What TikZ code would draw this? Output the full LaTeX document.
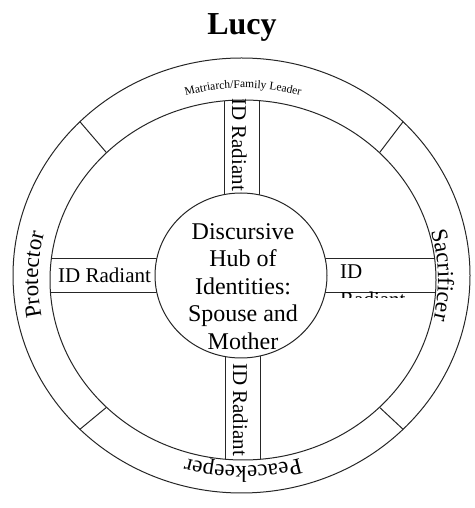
\documentclass[tikz,border=0pt]{standalone}
\usepackage{fontspec}
\setmainfont{Liberation Serif}
\usetikzlibrary{shapes.geometric,decorations.text}

\tikzset{
  ringline/.style={draw=black!85, line width=1pt},
  barbox/.style={draw=black!85, line width=1pt},
  radtext/.style={font=\fontsize{21}{24}\selectfont, inner sep=0pt},
  hubshape/.style={ellipse, draw=black!85, line width=1pt, fill=white,
    minimum width=172pt, minimum height=165pt, inner sep=0pt, outer sep=0pt},
  hubtext/.style={font=\fontsize{24}{27.5}\selectfont, align=center, inner sep=0pt},
  titletext/.style={font=\fontsize{32}{36}\selectfont\bfseries, inner sep=0pt},
}

\begin{document}
\begin{tikzpicture}[x=1pt, y=1pt]
\useasboundingbox (0,0) rectangle (474,508);

% centres of the outer rim, the inner rim and the hub
\coordinate (O) at (241.5,232.5);
\coordinate (I) at (243,228);
\coordinate (H) at (241,232.5);

% rims of the wheel
\draw[ringline] (O) ellipse [x radius=228.5, y radius=217.5];
\draw[ringline] (I) ellipse [x radius=193, y radius=180];

% dividers between the rim segments
\foreach \a in {45,135,225,315}
  \draw[ringline] ([shift={(\a:228.5 and 217.5)}]O) -- ([shift={(\a:193 and 180)}]I);

% spokes, cut off by the inner rim
\begin{scope}
  \clip (I) ellipse [x radius=193, y radius=180];
  \draw[barbox] (224,232) rectangle (259,430);
  \draw[barbox] (225,232) rectangle (260,30);
  \draw[barbox] (20,249) rectangle (241,215);
  \draw[barbox] (241,249) rectangle (460,215);
\end{scope}

% spoke labels
\node[radtext, rotate=-90, anchor=base west] (radtop) at (232,410) {ID Radiant};
\node[radtext, rotate=-90, anchor=base west] (radbottom) at (233,145) {ID Radiant};
\node[radtext, anchor=base west] (radleft) at (58,225) {ID Radiant};
\begin{scope}
  \clip (327,249) rectangle (436,210);
  \node[radtext, align=left, anchor=north west, font=\fontsize{21}{28}\selectfont] (radright) at (340,243) {ID\\Radiant};
\end{scope}

% hub
\node[hubshape] (hub) at (H) {};
\node[hubtext] (hublabel) at (243,221.5) {Discursive\\Hub of\\Identities:\\Spouse and\\Mother};

% rim labels
\path[decorate, decoration={text along path, text align=center,
    text={|\fontsize{11.5}{12}\selectfont|Matriarch/Family Leader}}]
  ([shift={(150:206 and 192)}]I) arc [start angle=150, end angle=30, x radius=206, y radius=192];
\path[decorate, decoration={text along path, text align=center,
    text={|\fontsize{23}{23}\selectfont|Protector}}]
  ([shift={(213.5:205 and 192)}]I) arc [start angle=213.5, end angle=143.5, x radius=205, y radius=192];
\path[decorate, decoration={text along path, text align=center,
    text={|\fontsize{23}{23}\selectfont|Sacrificer}}]
  ([shift={(36.5:195 and 182)}]I) arc [start angle=36.5, end angle=-33.5, x radius=195, y radius=182];
\path[decorate, decoration={text along path, text align=center,
    text={|\fontsize{23}{23}\selectfont|Peacekeeper}}]
  ([shift={(-35:199 and 186)}]I) arc [start angle=-35, end angle=-145, x radius=199, y radius=186];

% title
\node[titletext, anchor=base] (title) at (242,473) {Lucy};
\end{tikzpicture}
\end{document}
